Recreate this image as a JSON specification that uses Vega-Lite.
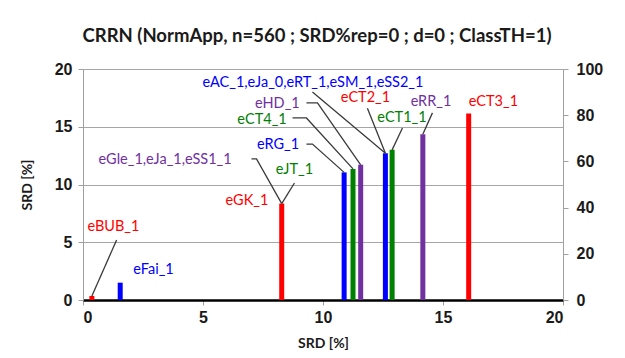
{
  "$schema": "https://vega.github.io/schema/vega-lite/v6.json",
  "width": 480,
  "height": 231,
  "autosize": "none",
  "padding": {"left": 83, "top": 69, "right": 62, "bottom": 58},
  "background": "white",
  "config": {"view": {"stroke": null}},
  "title": {
    "text": "CRRN (NormApp, n=560 ; SRD%rep=0 ; d=0 ; ClassTH=1)",
    "font": "Lato",
    "fontSize": 18.5,
    "fontWeight": "bold",
    "color": "#1a1a1a",
    "anchor": "middle",
    "offset": 16,
    "dx": -6
  },
  "datasets": {
    "bars": [
      {"name": "eBUB_1", "cls": "red", "x": 0.37, "y": 0.35},
      {"name": "eFai_1", "cls": "blue", "x": 1.55, "y": 1.5},
      {"name": "eGK_1", "cls": "red", "x": 8.28, "y": 8.35},
      {"name": "eRG_1", "cls": "blue", "x": 10.88, "y": 11.05},
      {"name": "eCT4_1", "cls": "green", "x": 11.25, "y": 11.35},
      {"name": "eHD_1", "cls": "purple", "x": 11.57, "y": 11.7},
      {"name": "eAC_1", "cls": "blue", "x": 12.6, "y": 12.7},
      {"name": "eCT1_1", "cls": "green", "x": 12.88, "y": 13.0},
      {"name": "eRR_1", "cls": "purple", "x": 14.16, "y": 14.35},
      {"name": "eCT3_1", "cls": "red", "x": 16.07, "y": 16.15}
    ],
    "leaders": [
      {"id": 1, "seq": 1, "x": 1.40, "y": 5.19},
      {"id": 1, "seq": 2, "x": 0.37, "y": 0.35},
      {"id": 2, "seq": 1, "x": 7.02, "y": 12.21},
      {"id": 2, "seq": 2, "x": 7.23, "y": 12.21},
      {"id": 2, "seq": 3, "x": 8.28, "y": 8.35},
      {"id": 3, "seq": 1, "x": 8.81, "y": 10.13},
      {"id": 3, "seq": 2, "x": 8.28, "y": 8.35},
      {"id": 4, "seq": 1, "x": 9.31, "y": 13.5},
      {"id": 4, "seq": 2, "x": 9.56, "y": 13.5},
      {"id": 4, "seq": 3, "x": 10.88, "y": 11.05},
      {"id": 5, "seq": 1, "x": 8.73, "y": 15.76},
      {"id": 5, "seq": 2, "x": 9.31, "y": 15.76},
      {"id": 5, "seq": 3, "x": 11.25, "y": 11.35},
      {"id": 6, "seq": 1, "x": 9.31, "y": 17.06},
      {"id": 6, "seq": 2, "x": 9.77, "y": 17.06},
      {"id": 6, "seq": 3, "x": 11.57, "y": 11.7},
      {"id": 7, "seq": 1, "x": 9.56, "y": 18.0},
      {"id": 7, "seq": 2, "x": 12.6, "y": 12.7},
      {"id": 8, "seq": 1, "x": 11.85, "y": 16.6},
      {"id": 8, "seq": 2, "x": 12.6, "y": 12.7},
      {"id": 9, "seq": 1, "x": 13.31, "y": 14.9},
      {"id": 9, "seq": 2, "x": 12.88, "y": 13.0},
      {"id": 10, "seq": 1, "x": 14.56, "y": 16.2},
      {"id": 10, "seq": 2, "x": 14.16, "y": 14.35}
    ],
    "labels": [
      {"text": "eBUB_1", "cls": "red", "x": 1.27, "y": 6.32},
      {"text": "eFai_1", "cls": "blue", "x": 2.94, "y": 2.6},
      {"text": "eGK_1", "cls": "red", "x": 6.83, "y": 8.57},
      {"text": "eGle_1,eJa_1,eSS1_1", "cls": "purple", "x": 3.42, "y": 12.12},
      {"text": "eJT_1", "cls": "green", "x": 8.81, "y": 11.26},
      {"text": "eRG_1", "cls": "blue", "x": 8.13, "y": 13.42},
      {"text": "eCT4_1", "cls": "green", "x": 7.46, "y": 15.58},
      {"text": "eHD_1", "cls": "purple", "x": 8.1, "y": 16.97},
      {"text": "eAC_1,eJa_0,eRT_1,eSM_1,eSS2_1", "cls": "blue", "x": 9.58, "y": 18.82},
      {"text": "eCT2_1", "cls": "red", "x": 11.77, "y": 17.45},
      {"text": "eCT1_1", "cls": "green", "x": 13.29, "y": 15.76},
      {"text": "eRR_1", "cls": "purple", "x": 14.5, "y": 17.14},
      {"text": "eCT3_1", "cls": "red", "x": 17.1, "y": 17.14}
    ]
  },
  "layer": [
    {
      "layer": [
        {
          "data": {"name": "bars"},
          "mark": {"type": "rule", "strokeWidth": 5, "strokeCap": "butt"},
          "encoding": {
            "x": {
              "field": "x", "type": "quantitative",
              "scale": {"domain": [0, 20], "nice": false, "zero": true},
              "axis": {
                "title": "SRD [%]",
                "values": [0, 5, 10, 15, 20],
                "domainColor": "#000000",
                "domainWidth": 2.5,
                "tickColor": "#a0a0a0",
                "tickSize": 5,
                "labelFont": "Liberation Sans",
                "labelFontSize": 16,
                "labelFontWeight": "bold",
                "labelColor": "#1a1a1a",
                "labelPadding": 4,
                "titleFont": "Lato",
                "titleFontSize": 14,
                "titleFontWeight": "bold",
                "titleColor": "#1a1a1a",
                "titlePadding": 11,
                "grid": false
              }
            },
            "y": {
              "field": "y", "type": "quantitative",
              "scale": {"domain": [0, 20], "nice": false},
              "axis": {
                "title": "SRD [%]",
                "values": [0, 5, 10, 15, 20],
                "grid": true,
                "gridColor": "#a6a6a6",
                "gridWidth": 1,
                "domainColor": "#a0a0a0",
                "tickColor": "#a0a0a0",
                "tickSize": 5,
                "labelFont": "Liberation Sans",
                "labelFontSize": 16,
                "labelFontWeight": "bold",
                "labelColor": "#1a1a1a",
                "labelPadding": 6,
                "titleFont": "Lato",
                "titleFontSize": 14,
                "titleFontWeight": "bold",
                "titleColor": "#1a1a1a",
                "titlePadding": 20
              }
            },
            "y2": {"datum": 0},
            "color": {
              "field": "cls", "type": "nominal",
              "scale": {"domain": ["red", "blue", "green", "purple"], "range": ["#ff0000", "#0000ff", "#008000", "#7030a0"]},
              "legend": null
            }
          }
        },
        {
          "data": {"name": "leaders"},
          "mark": {"type": "line", "color": "#3a3a3a", "strokeWidth": 1.3},
          "encoding": {
            "x": {"field": "x", "type": "quantitative"},
            "y": {"field": "y", "type": "quantitative"},
            "detail": {"field": "id", "type": "nominal"},
            "order": {"field": "seq", "type": "quantitative"}
          }
        },
        {
          "data": {"name": "labels"},
          "mark": {"type": "text", "font": "Lato", "fontSize": 14.5, "align": "center", "baseline": "middle"},
          "encoding": {
            "x": {"field": "x", "type": "quantitative"},
            "y": {"field": "y", "type": "quantitative"},
            "text": {"field": "text", "type": "nominal"},
            "color": {"field": "cls", "type": "nominal", "legend": null}
          }
        }
      ]
    },
    {
      "data": {"values": [{"v": 0}]},
      "mark": {"type": "rule", "opacity": 0},
      "encoding": {
        "y": {
          "field": "v", "type": "quantitative",
          "scale": {"domain": [0, 100], "nice": false},
          "axis": {
            "orient": "right",
            "title": null,
            "values": [0, 20, 40, 60, 80, 100],
            "grid": false,
            "domainColor": "#a0a0a0",
            "tickColor": "#a0a0a0",
            "tickSize": 5,
            "labelFont": "Liberation Sans",
            "labelFontSize": 16,
            "labelFontWeight": "bold",
            "labelColor": "#1a1a1a",
            "labelPadding": 8
          }
        }
      }
    }
  ],
  "resolve": {"scale": {"y": "independent"}}
}
